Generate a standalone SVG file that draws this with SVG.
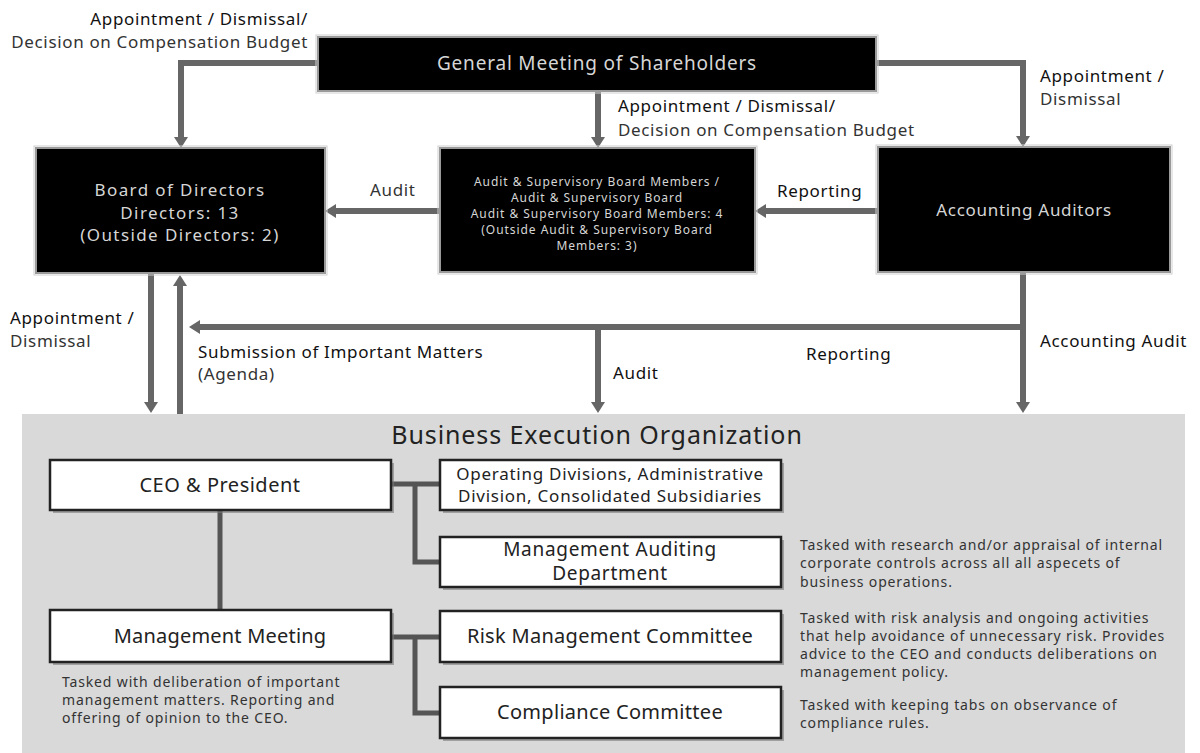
<svg xmlns="http://www.w3.org/2000/svg" width="1200" height="753" viewBox="0 0 1200 753">
<defs>
<style>
text{font-family:"Noto Sans","Liberation Sans",sans-serif}
.lbl{font-size:17px;letter-spacing:0.65px;fill:#111}
.lbl2{font-size:17px;letter-spacing:0.65px;fill:#333}
.dk{fill:#000;stroke:#9a9a9a;stroke-width:2}
.dko{fill:none;stroke:#d0d0d0;stroke-width:1}
.dt{fill:#d6d6d6;text-anchor:middle}
.wb{fill:#fff;stroke:#222;stroke-width:2.5}
.sh{fill:#7a7a7a;opacity:0.6}
.bt{fill:#222;text-anchor:middle}
.desc{font-size:14px;fill:#333;letter-spacing:0.85px}
.arr{fill:none;stroke:#666;stroke-width:6;marker-end:url(#ah)}
.ln{fill:none;stroke:#555;stroke-width:5}
</style>
<marker id="ah" markerUnits="userSpaceOnUse" viewBox="0 0 11 14" markerWidth="11" markerHeight="14" refX="2" refY="7" orient="auto">
<path d="M0,0 L11,7 L0,14 z" fill="#666"/>
</marker>
</defs>
<rect width="1200" height="753" fill="#fff"/>
<g id="business-execution-area">
<rect x="22" y="414" width="1163" height="339" fill="#d9d9d9"/>
<text x="597" y="444" font-size="25" letter-spacing="0.9" fill="#222" text-anchor="middle">Business Execution Organization</text>
</g>
<g id="connectors">
<path class="arr" d="M318,63 H181 V139"/>
<path class="arr" d="M876,63 H1023 V138"/>
<path class="arr" d="M598,91 V139"/>
<path class="arr" d="M440,211 H334"/>
<path class="arr" d="M878,211 H764"/>
<path class="arr" d="M1023,272 V404"/>
<path class="arr" d="M1023,327 H198"/>
<path class="arr" d="M598,327 V404"/>
<path class="arr" d="M151,273 V404"/>
<path class="arr" d="M180,414 V284"/>
<path class="ln" d="M220,510 V610"/>
<path class="ln" d="M391,484 H440 M415,484 V562 H440"/>
<path class="ln" d="M391,637 H440 M415,637 V713 H440"/>
</g>
<g id="edge-labels">
<text class="lbl" x="308" y="25" text-anchor="end">Appointment / Dismissal/</text>
<text class="lbl2" x="308" y="48" text-anchor="end">Decision on Compensation Budget</text>
<text class="lbl" x="618" y="112">Appointment / Dismissal/</text>
<text class="lbl2" x="618" y="136">Decision on Compensation Budget</text>
<text class="lbl" x="1040" y="82">Appointment /</text>
<text class="lbl2" x="1040" y="105">Dismissal</text>
<text class="lbl2" x="370" y="196">Audit</text>
<text class="lbl" x="777" y="197">Reporting</text>
<text class="lbl" x="10" y="324">Appointment /</text>
<text class="lbl2" x="10" y="347">Dismissal</text>
<text class="lbl" x="198" y="358">Submission of Important Matters</text>
<text class="lbl2" x="198" y="380">(Agenda)</text>
<text class="lbl" x="613" y="379">Audit</text>
<text class="lbl" x="806" y="360">Reporting</text>
<text class="lbl" x="1040" y="347">Accounting Audit</text>
</g>
<g id="gms">
<rect class="dko" x="316" y="35" width="562" height="58"/>
<rect class="dk" x="318" y="37" width="558" height="54"/>
<text class="dt" x="597" y="70" font-size="19" letter-spacing="0.8">General Meeting of Shareholders</text>
</g>
<g id="board">
<rect class="dko" x="34" y="146" width="293" height="129"/>
<rect class="dk" x="36" y="148" width="289" height="125"/>
<text class="dt" x="180" y="196" font-size="17" letter-spacing="1.4">Board of Directors</text>
<text class="dt" x="180" y="219" font-size="17" letter-spacing="1.4">Directors: 13</text>
<text class="dt" x="180" y="241" font-size="17" letter-spacing="1.4">(Outside Directors: 2)</text>
</g>
<g id="audit-board">
<rect class="dko" x="438" y="146" width="319" height="128"/>
<rect class="dk" x="440" y="148" width="315" height="124"/>
<text class="dt" x="597" y="186" font-size="12" letter-spacing="0.95">Audit &amp; Supervisory Board Members /</text>
<text class="dt" x="597" y="202" font-size="12" letter-spacing="0.95">Audit &amp; Supervisory Board</text>
<text class="dt" x="597" y="218" font-size="12" letter-spacing="0.95">Audit &amp; Supervisory Board Members: 4</text>
<text class="dt" x="597" y="234" font-size="12" letter-spacing="0.95">(Outside Audit &amp; Supervisory Board</text>
<text class="dt" x="597" y="250" font-size="12" letter-spacing="0.95">Members: 3)</text>
</g>
<g id="accounting-auditors">
<rect class="dko" x="876" y="145" width="296" height="129"/>
<rect class="dk" x="878" y="147" width="292" height="125"/>
<text class="dt" x="1024" y="216" font-size="17" letter-spacing="0.7">Accounting Auditors</text>
</g>
<g id="ceo">
<rect class="sh" x="53" y="463" width="341" height="50"/>
<rect class="wb" x="50" y="460" width="341" height="50"/>
<text class="bt" x="220" y="492" font-size="20" letter-spacing="0.5">CEO &amp; President</text>
</g>
<g id="management-meeting">
<rect class="sh" x="53" y="613" width="341" height="52"/>
<rect class="wb" x="50" y="610" width="341" height="52"/>
<text class="bt" x="220" y="643" font-size="20" letter-spacing="0.2">Management Meeting</text>
<text class="desc" x="62" y="687">Tasked with deliberation of important</text>
<text class="desc" x="62" y="705">management matters. Reporting and</text>
<text class="desc" x="62" y="723">offering of opinion to the CEO.</text>
</g>
<g id="operating-divisions">
<rect class="sh" x="443" y="463" width="341" height="50"/>
<rect class="wb" x="440" y="460" width="341" height="50"/>
<text class="bt" x="610" y="480" font-size="17" letter-spacing="0.75">Operating Divisions, Administrative</text>
<text class="bt" x="610" y="502" font-size="17" letter-spacing="0.75">Division, Consolidated Subsidiaries</text>
</g>
<g id="management-auditing">
<rect class="sh" x="443" y="540" width="341" height="50"/>
<rect class="wb" x="440" y="537" width="341" height="50"/>
<text class="bt" x="610" y="556" font-size="19" letter-spacing="0.7">Management Auditing</text>
<text class="bt" x="610" y="580" font-size="19" letter-spacing="0.7">Department</text>
<text class="desc" x="800" y="550">Tasked with research and/or appraisal of internal</text>
<text class="desc" x="800" y="568">corporate controls across all all aspecets of</text>
<text class="desc" x="800" y="587">business operations.</text>
</g>
<g id="risk-management">
<rect class="sh" x="443" y="614" width="341" height="51"/>
<rect class="wb" x="440" y="611" width="341" height="51"/>
<text class="bt" x="610" y="643" font-size="20" letter-spacing="0.3">Risk Management Committee</text>
<text class="desc" x="800" y="623">Tasked with risk analysis and ongoing activities</text>
<text class="desc" x="800" y="641">that help avoidance of unnecessary risk. Provides</text>
<text class="desc" x="800" y="659">advice to the CEO and conducts deliberations on</text>
<text class="desc" x="800" y="677">management policy.</text>
</g>
<g id="compliance">
<rect class="sh" x="443" y="690" width="341" height="51"/>
<rect class="wb" x="440" y="687" width="341" height="51"/>
<text class="bt" x="610" y="719" font-size="20" letter-spacing="0.3">Compliance Committee</text>
<text class="desc" x="800" y="710">Tasked with keeping tabs on observance of</text>
<text class="desc" x="800" y="728">compliance rules.</text>
</g>
</svg>
